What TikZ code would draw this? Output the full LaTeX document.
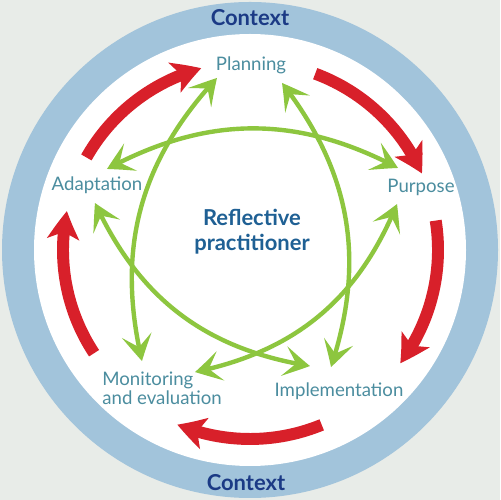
\documentclass[tikz,border=0pt]{standalone}
\usepackage{fontspec}
\setmainfont{Lato}
\usetikzlibrary{arrows.meta,bending}
\definecolor{bgc}{HTML}{E8ECE8}
\definecolor{ringc}{HTML}{A2C4DB}
\definecolor{ctxc}{HTML}{1B3A85}
\definecolor{labc}{HTML}{4B8D9F}
\definecolor{refc}{HTML}{1F6094}
\definecolor{redc}{HTML}{D8202A}
\definecolor{grnc}{HTML}{8DC63F}
\begin{document}
\begin{tikzpicture}[x=0.02cm,y=0.02cm,
  lab/.style={text=labc,font=\fontsize{10.6}{10.8}\selectfont,inner sep=0pt},
  ctx/.style={text=ctxc,font=\fontsize{12.5}{14}\selectfont\bfseries,inner sep=0pt,anchor=base},
  redarrow/.style={draw=redc,line width=6.8pt,-{Stealth[length=16pt,width=18pt,inset=4pt,bend]}},
  gtip/.tip={Stealth[length=15pt,width=17pt,inset=7pt,bend]},
  grnarrow/.style={draw=grnc,line width=2.5pt,gtip-gtip,bend left=28}]
\useasboundingbox (0,0) rectangle (500,500);
\fill[bgc] (0,0) rectangle (500,500);
\fill[ringc] (250,250) circle[radius=248];
\fill[white] (250,250) circle[radius=216];
% Context labels
\node[ctx] (ctxtop) at (250,474) {Context};
\node[ctx] (ctxbot) at (246,10) {Context};
% stage labels
\node[lab,anchor=base] (plan) at (251,429) {Planning};
\node[lab,anchor=base] (purp) at (421,307) {Purpose};
\node[lab,anchor=base] (adap) at (97,309) {Adaptation};
\node[lab,anchor=base] (impl) at (339,103) {Implementation};
\node[lab,anchor=north west,align=left] (moni) at (102,128) {Monitoring\\and evaluation};
\node[anchor=north,align=center,inner sep=0pt,text=refc,font=\fontsize{12.5}{14.2}\selectfont\bfseries] (refl) at (252,291) {Reflective\\practitioner};
% red cycle arrows
\begin{scope}[shift={(250,250)}]
\draw[redarrow] (150.5:188) arc[start angle=150.5,end angle=105,radius=188];
\draw[redarrow] (69.7:188) arc[start angle=69.7,end angle=24,radius=188];
\draw[redarrow] (9:188) arc[start angle=9,end angle=-37,radius=188];
\draw[redarrow] (-67.7:189) arc[start angle=-67.7,end angle=-112.6,radius=189];
\draw[redarrow] (213.5:187) arc[start angle=213.5,end angle=168,radius=187];
\end{scope}
% green arrow end points
\coordinate (aA) at (107,331);
\coordinate (pA) at (398,332);
\coordinate (plB) at (217,422);
\coordinate (mB) at (142,139);
\coordinate (plC) at (282,417);
\coordinate (iC) at (331,133);
\coordinate (aD) at (95,297);
\coordinate (iD) at (310,134);
\coordinate (pE) at (397,296);
\coordinate (mE) at (195,128);
\draw[grnarrow] (aA) to (pA);
\draw[grnarrow] (pE) to (mE);
\draw[grnarrow] (mB) to (plB);
\draw[grnarrow] (plC) to (iC);
\draw[grnarrow] (iD) to (aD);
\end{tikzpicture}
\end{document}
